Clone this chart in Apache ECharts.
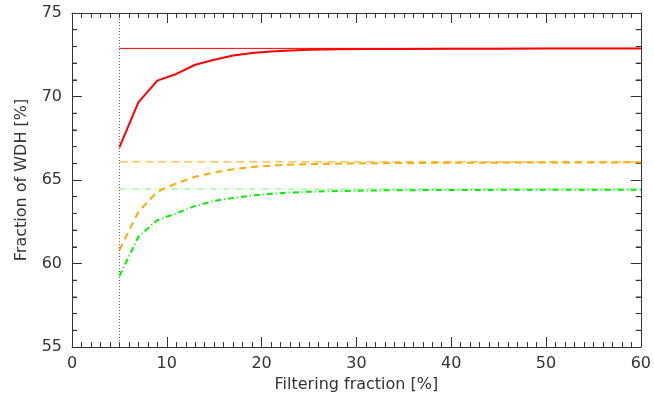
<!DOCTYPE html>
<html>
<head>
<meta charset="utf-8">
<script src="https://cdn.jsdelivr.net/npm/echarts@6/dist/echarts.min.js"></script>
<style>html,body{margin:0;padding:0;background:#fff;}#c{width:654px;height:403px;}</style>
</head>
<body>
<div id="c"></div>
<script>
const xs = [5, 7, 9, 11, 13, 15, 17, 19, 21, 23, 25, 28, 31, 35, 40, 45, 50, 55, 60];
const redCurve = [66.95, 69.65, 70.95, 71.35, 71.9, 72.2, 72.45, 72.6, 72.7, 72.76, 72.8, 72.83, 72.84, 72.85, 72.86, 72.86, 72.87, 72.87, 72.87];
const orangeCurve = [60.8, 63.1, 64.3, 64.8, 65.2, 65.45, 65.64, 65.78, 65.86, 65.92, 65.95, 65.98, 66.0, 66.02, 66.03, 66.04, 66.05, 66.05, 66.06];
const greenCurve = [59.25, 61.6, 62.6, 63.0, 63.45, 63.75, 63.93, 64.07, 64.17, 64.25, 64.3, 64.34, 64.37, 64.39, 64.4, 64.41, 64.42, 64.42, 64.42];
const redLevel = 72.88;
const orangeLevel = 66.08;
const greenLevel = 64.46;
const cutX = 5;
const xRange = [0, 60];
const yRange = [55, 75];
const yMinorTicks = [56, 57, 58, 59, 61, 62, 63, 64, 66, 67, 68, 69, 71, 72, 73, 74];

const pair = (ys) => xs.map((x, i) => [x, ys[i]]);
const level = (v) => [[cutX, v], [xRange[1], v]];

const font = 'DejaVu Sans';
const axisCol = '#333';

function ax(position, min, max, interval, minorSplit, label, extra) {
  return Object.assign({
    type: 'value', position, min, max, interval,
    axisLine: { show: true, onZero: false, lineStyle: { color: axisCol, width: 1 } },
    axisTick: { show: true, inside: true, length: 10, lineStyle: { color: axisCol } },
    minorTick: { show: true, splitNumber: minorSplit, length: 5, lineStyle: { color: axisCol } },
    splitLine: { show: false },
    axisLabel: label ? { show: true, color: axisCol, fontFamily: font, fontSize: 16 } : { show: false }
  }, extra || {});
}

const chart = echarts.init(document.getElementById('c'), null, { renderer: 'canvas' });
chart.setOption({
  animation: false,
  backgroundColor: '#fff',
  grid: { left: 72, right: 13, top: 13, bottom: 56, containLabel: false },
  xAxis: [
    ax('bottom', xRange[0], xRange[1], 10, 10, true, {
      axisLabel: { color: axisCol, fontFamily: font, fontSize: 16, margin: 9 },
      name: 'Filtering fraction [%]', nameLocation: 'middle', nameGap: 30,
      nameTextStyle: { color: axisCol, fontFamily: font, fontSize: 16 } }),
    ax('top', xRange[0], xRange[1], 10, 10, false)
  ],
  yAxis: [
    ax('left', yRange[0], yRange[1], 5, 5, true, {
      axisLabel: { color: axisCol, fontFamily: font, fontSize: 16, margin: 10 },
      name: 'Fraction of WDH [%]', nameLocation: 'middle', nameGap: 42,
      nameTextStyle: { color: axisCol, fontFamily: font, fontSize: 16 } }),
    ax('right', yRange[0], yRange[1], 5, 5, false)
  ],
  series: [
    { type: 'scatter', data: yMinorTicks.map(v => [xRange[0], v]), symbol: 'rect', symbolSize: [5, 1],
      symbolOffset: [2.5, 0], itemStyle: { color: axisCol }, silent: true, clip: false },
    { type: 'scatter', data: yMinorTicks.map(v => [xRange[1], v]), symbol: 'rect', symbolSize: [5, 1],
      symbolOffset: [-2.5, 0], itemStyle: { color: axisCol }, silent: true, clip: false },
    { type: 'line', data: [[cutX, yRange[0]], [cutX, yRange[1]]], symbol: 'none',
      lineStyle: { color: '#555', width: 1, type: [1, 2] } },
    { type: 'line', data: level(redLevel), symbol: 'none', lineStyle: { color: '#ff0000', width: 1 } },
    { type: 'line', data: level(orangeLevel), symbol: 'none', lineStyle: { color: '#ffb733', width: 1.2, type: [8, 5] } },
    { type: 'line', data: level(greenLevel), symbol: 'none', lineStyle: { color: '#66ff66', width: 1.2, type: [6, 3, 1, 3] } },
    { type: 'line', data: pair(redCurve), symbol: 'none', lineStyle: { color: '#ff0000', width: 2 } },
    { type: 'line', data: pair(orangeCurve), symbol: 'none', lineStyle: { color: '#ffaa00', width: 2, type: [7, 5] } },
    { type: 'line', data: pair(greenCurve), symbol: 'none', lineStyle: { color: '#00ee00', width: 2, type: [6, 3, 1, 3] } }
  ]
});
</script>
</body>
</html>
